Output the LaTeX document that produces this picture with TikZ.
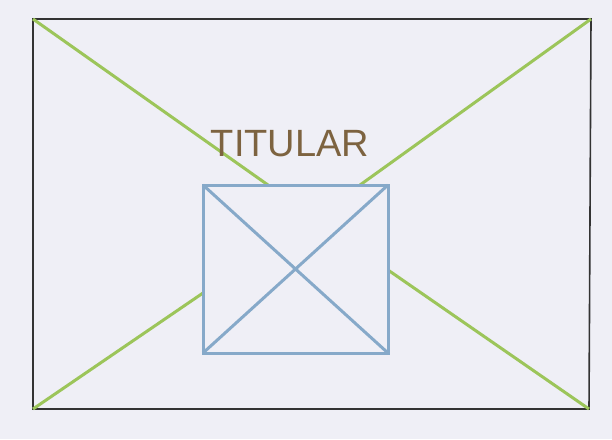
\documentclass[tikz,border=0pt]{standalone}
\usepackage{fontspec}
\newfontfamily\handfont{Liberation Sans}
\definecolor{paper}{HTML}{EFEFF6}
\definecolor{guide}{HTML}{9CC55A}
\definecolor{frame}{HTML}{86A9C9}
\definecolor{ink}{HTML}{7D6340}
\tikzset{
  outer/.style={draw=black!80,line width=1.6pt},
  diag/.style={guide,line width=3pt},
  pic/.style={frame,line width=3pt},
}
\begin{document}
\begin{tikzpicture}[x=1pt,y=-1pt]
  \fill[paper] (0,0) rectangle (612,439);
  % page corners
  \coordinate (tl) at (33,19);
  \coordinate (tr) at (591,19);
  \coordinate (bl) at (33,409);
  \coordinate (br) at (589,409);
  \draw[outer] (tl) -- (tr) -- (br) -- (bl) -- cycle;
  % image box
  \coordinate (itl) at (203,185);
  \coordinate (itr) at (388,185);
  \coordinate (ibl) at (203,353);
  \coordinate (ibr) at (388,353);
  % where the guides meet the box
  \coordinate (gt1) at (268,185);
  \coordinate (gt2) at (360,185);
  \coordinate (gl) at (203,293);
  \coordinate (gr) at (388,270);
  \draw[diag] (tl) -- (gt1);
  \draw[diag] (tr) -- (gt2);
  \draw[diag] (bl) -- (gl);
  \draw[diag] (br) -- (gr);
  \draw[pic] (itl) rectangle (ibr);
  \draw[pic] (itl) -- (ibr);
  \draw[pic] (itr) -- (ibl);
  \node[ink,font=\handfont\fontsize{38}{38}\selectfont] (title) at (290,144) {TITULAR};
\end{tikzpicture}
\end{document}
